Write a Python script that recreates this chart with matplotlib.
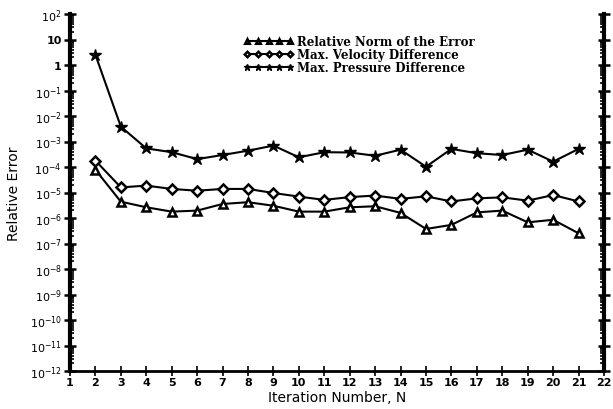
import matplotlib
matplotlib.use("Agg")
import matplotlib.pyplot as plt
import numpy as np
from matplotlib.ticker import FixedLocator, NullFormatter

# Data (log10 of relative error)
iterations = list(range(2, 22))
norm_log = [-4.11, -5.36, -5.58, -5.75, -5.71, -5.45, -5.38, -5.52, -5.75, -5.75,
            -5.58, -5.54, -5.80, -6.43, -6.27, -5.78, -5.71, -6.17, -6.07, -6.60]
vel_log = [-3.75, -4.80, -4.73, -4.86, -4.93, -4.86, -4.86, -5.02, -5.16, -5.29,
           -5.18, -5.12, -5.25, -5.15, -5.35, -5.23, -5.19, -5.32, -5.10, -5.35]
pres_log = [0.40, -2.42, -3.27, -3.42, -3.69, -3.53, -3.36, -3.16, -3.62, -3.42,
            -3.43, -3.56, -3.32, -3.99, -3.29, -3.46, -3.53, -3.32, -3.79, -3.29]
series_labels = ["Relative Norm of the Error", "Max. Velocity Difference", "Max. Pressure Difference"]
x_ticks = list(range(1, 23))
y_exps = list(range(2, -13, -1))
y_tick_labels = ["$10^{%d}$" % e if e not in (0, 1) else ("1" if e == 0 else "10") for e in y_exps]

fig = plt.figure(figsize=(6.13, 4.10), dpi=100)
ax = fig.add_axes([70/613, 1-372/410, 534/613, 357/410])

norm = 10.0 ** np.array(norm_log)
vel = 10.0 ** np.array(vel_log)
pres = 10.0 ** np.array(pres_log)

ax.plot(iterations, norm, color="black", lw=1.5, marker="^", ms=6, mfc="white", mec="black", mew=1.8, label=series_labels[0])
ax.plot(iterations, vel, color="black", lw=1.5, marker="D", ms=5, mfc="white", mec="black", mew=1.8, label=series_labels[1])
ax.plot(iterations, pres, color="black", lw=1.5, marker="*", ms=9, mfc="black", mec="black", label=series_labels[2])

ax.set_yscale("log")
ax.set_ylim(1e-12, 1e2)
ax.set_xlim(1, 22)
ax.yaxis.set_major_locator(FixedLocator([10.0 ** e for e in y_exps]))
ax.set_yticklabels(y_tick_labels)
ax.yaxis.set_minor_locator(FixedLocator([m * 10.0 ** e for e in range(-12, 2) for m in range(2, 10)]))
ax.yaxis.set_minor_formatter(NullFormatter())
ax.set_xticks(x_ticks)
ax.set_xticklabels([str(v) for v in x_ticks])

for side in ["left", "right", "bottom"]:
    ax.spines[side].set_linewidth(2.0)
ax.spines["left"].set_linewidth(3.0)
ax.spines["right"].set_linewidth(3.0)
ax.spines["top"].set_visible(False)

ax.tick_params(axis="y", which="major", direction="inout", length=8, width=1.8, labelsize=8, pad=2)
ax.tick_params(axis="y", which="minor", direction="in", length=3, width=1.2)
ax.tick_params(axis="y", which="both", right=True)
ax.tick_params(axis="x", which="major", direction="inout", length=7, width=1.2, labelsize=8, pad=1)
for lab in ax.get_xticklabels() + ax.get_yticklabels():
    lab.set_fontweight("bold")

ax.set_xlabel("Iteration Number, N", fontsize=10, labelpad=2)
ax.set_ylabel("Relative Error", fontsize=10, labelpad=6)

leg = ax.legend(loc="upper left", bbox_to_anchor=(0.31, 0.965), numpoints=5, handlelength=4.2,
                frameon=False, markerscale=0.55, labelspacing=0.0, handletextpad=0.3,
                borderpad=0.2,
                prop={"family": "DejaVu Serif", "weight": "bold", "size": 8.5})

fig.savefig("out.png", dpi=100)
